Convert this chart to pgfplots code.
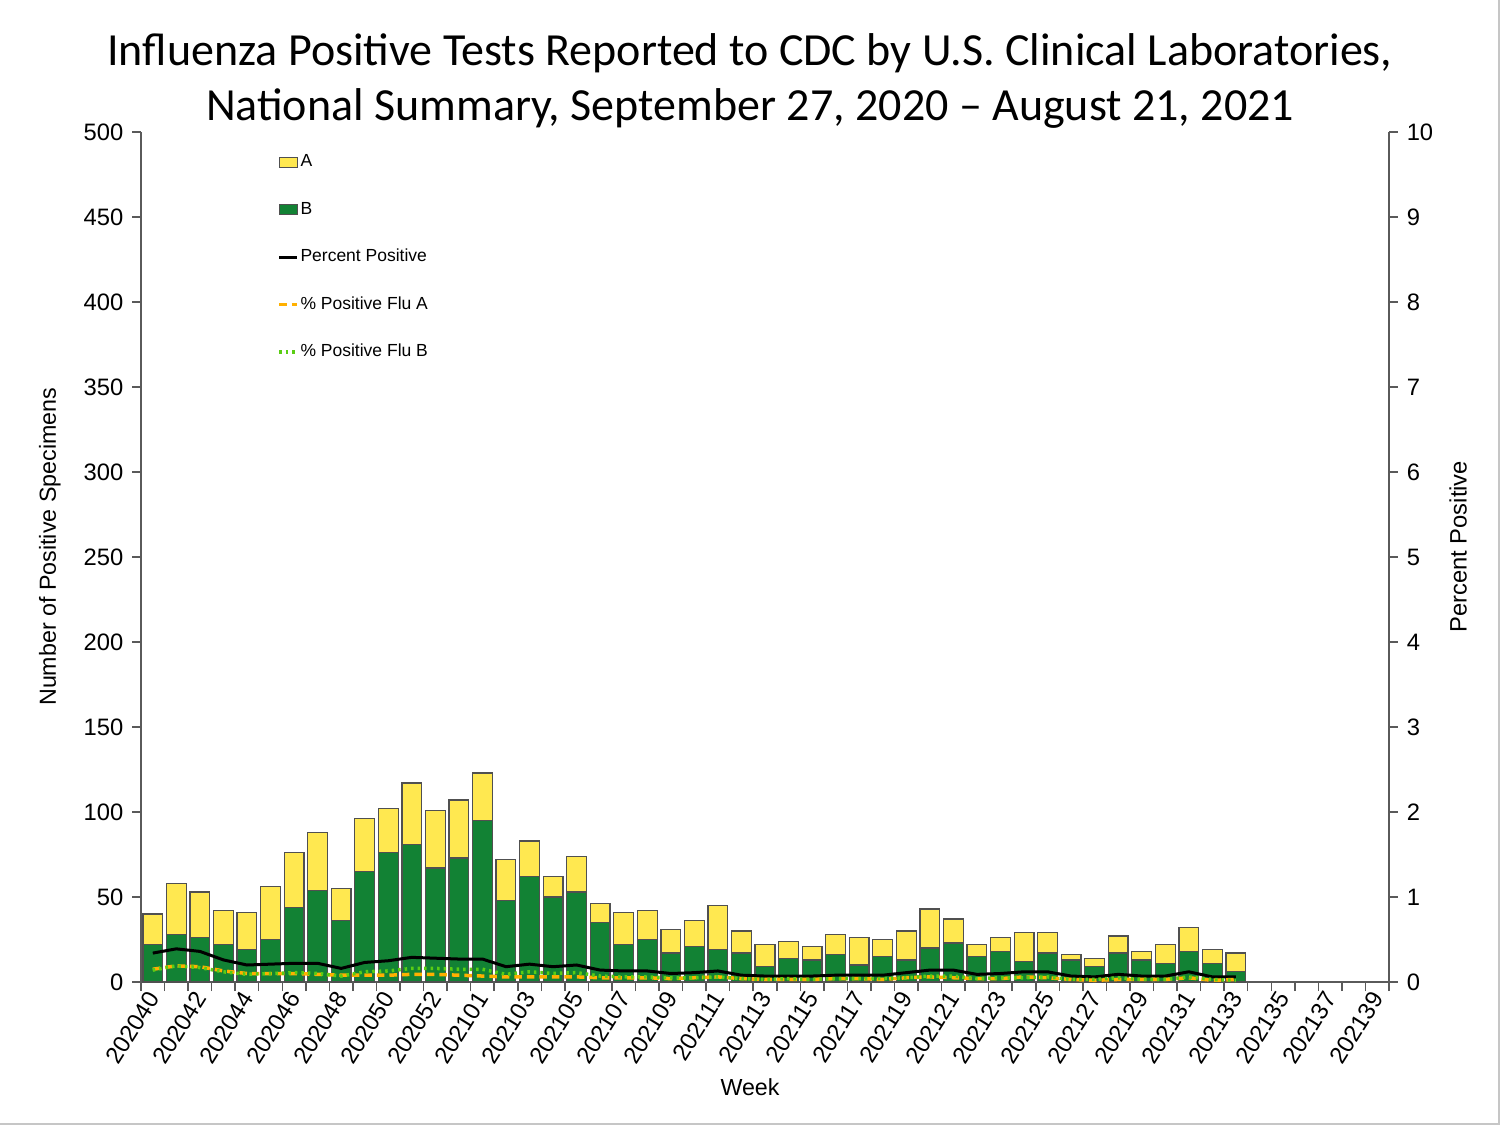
\documentclass[border=0pt]{standalone}
\usepackage{pgfplots}
\pgfplotsset{compat=1.18}
\usepackage{pgfplotstable}
\usepackage{fontspec}
\setmainfont{Liberation Sans}
\newfontfamily\titlefont{Carlito}

\definecolor{fluA}{RGB}{255,232,80}
\definecolor{fluB}{RGB}{18,130,52}
\definecolor{barline}{RGB}{80,80,80}
\definecolor{lineA}{RGB}{255,176,0}
\definecolor{lineB}{RGB}{90,205,20}
\definecolor{axisgray}{RGB}{90,90,90}

\pgfplotsset{
  legbar/.style={legend image code/.code={\draw[##1] (0pt,-2pt) rectangle (7.2pt,2pt);}},
  legline/.style={legend image code/.code={\draw[##1] (0pt,0pt) -- (7.2pt,0pt);}},
}

% x = week slot (0 = 202040), B and A = positive specimens, P/PA/PB = percent positive
\pgfplotstableread{
x  B  A  P    PA   PB
0  22 18 0.34 0.15 0.14
1  28 30 0.39 0.19 0.19
2  26 27 0.36 0.18 0.17
3  22 20 0.26 0.13 0.12
4  19 22 0.20 0.10 0.09
5  25 31 0.21 0.10 0.10
6  44 32 0.22 0.10 0.11
7  54 34 0.22 0.09 0.10
8  36 19 0.16 0.08 0.07
9  65 31 0.23 0.08 0.12
10 76 26 0.25 0.08 0.13
11 81 36 0.29 0.09 0.16
12 67 34 0.28 0.09 0.16
13 73 34 0.27 0.08 0.15
14 95 28 0.27 0.07 0.15
15 48 24 0.18 0.06 0.09
16 62 21 0.21 0.06 0.12
17 50 12 0.18 0.06 0.10
18 53 21 0.20 0.06 0.11
19 35 11 0.14 0.05 0.07
20 22 19 0.13 0.05 0.06
21 25 17 0.13 0.05 0.06
22 17 14 0.10 0.04 0.05
23 21 15 0.11 0.05 0.05
24 19 26 0.13 0.06 0.06
25 17 13 0.08 0.04 0.04
26 9  13 0.07 0.03 0.03
27 14 10 0.07 0.03 0.04
28 13 8  0.07 0.03 0.03
29 16 12 0.08 0.04 0.04
30 10 16 0.08 0.04 0.04
31 15 10 0.08 0.03 0.04
32 13 17 0.11 0.05 0.05
33 20 23 0.14 0.06 0.07
34 23 14 0.14 0.05 0.07
35 15 7  0.09 0.04 0.04
36 18 8  0.10 0.04 0.05
37 12 17 0.12 0.06 0.05
38 17 12 0.12 0.05 0.06
39 13 3  0.07 0.03 0.03
40 9  5  0.06 0.02 0.03
41 17 10 0.09 0.03 0.05
42 13 5  0.07 0.03 0.03
43 11 11 0.07 0.03 0.03
44 18 14 0.12 0.05 0.06
45 11 8  0.06 0.02 0.03
46 6  11 0.06 0.03 0.02
}\fluTable

\begin{document}
\begin{tikzpicture}
\useasboundingbox (-56.4pt,-57.2pt) rectangle (543.6pt,392.8pt);
\draw[gray!45, line width=0.8pt] (543.2pt,392.8pt) -- (543.2pt,-56.8pt) -- (-56.4pt,-56.8pt);

\begin{axis}[
    scale only axis,
    width=499.2pt, height=340pt,
    xmin=-0.5, xmax=52.5,
    ymin=0, ymax=500,
    axis x line*=bottom,
    axis y line*=left,
    axis line style={axisgray, line width=0.6pt},
    ytick={0,50,...,500},
    xtick={0,2,...,52},
    xticklabels={202040,202042,202044,202046,202048,202050,202052,
      202101,202103,202105,202107,202109,202111,202113,202115,202117,
      202119,202121,202123,202125,202127,202129,202131,202133,202135,
      202137,202139},
    minor xtick={-0.5,0.5,...,52.5},
    tick align=outside,
    major tick length=3.4pt,
    minor tick length=3.6pt,
    x tick style={draw=none},
    minor x tick style={draw=axisgray, line width=0.6pt},
    y tick style={axisgray, line width=0.6pt},
    tick label style={font=\fontsize{9.5}{11}\selectfont},
    /pgf/number format/assume math mode=true,
    xticklabel style={rotate=58, anchor=east, inner sep=1pt, yshift=-1pt},
    yticklabel style={inner sep=2pt, xshift=-1.5pt},
    every axis y label/.style={at={(axis description cs:-0.073,0.512)}, rotate=90, anchor=center},
    ylabel={Number of Positive Specimens},
    every axis x label/.style={at={(axis description cs:0.488,-0.1235)}, anchor=center},
    xlabel={Week},
    label style={font=\fontsize{9.3}{11}\selectfont},
    title={Influenza Positive Tests Reported to CDC by U.S. Clinical Laboratories,\\National Summary, September 27, 2020 – August 21, 2021},
    title style={at={(axis description cs:0.488,1.042)}, anchor=center, align=center,
      font=\titlefont\fontsize{18.4}{22}\selectfont},
    ybar stacked,
    bar width=0.84,
]
\addplot[fill=fluB, draw=barline, line width=0.5pt] table[x=x, y=B] {\fluTable};
\addplot[fill=fluA, draw=barline, line width=0.5pt] table[x=x, y=A] {\fluTable};
\end{axis}

\begin{axis}[
    scale only axis,
    width=499.2pt, height=340pt,
    xmin=-0.5, xmax=52.5,
    ymin=0, ymax=10,
    axis y line*=right,
    hide x axis,
    axis line style={axisgray, line width=0.6pt},
    ytick={0,1,...,10},
    tick align=outside,
    major tick length=3.4pt,
    y tick style={axisgray, line width=0.6pt},
    tick label style={font=\fontsize{9.5}{11}\selectfont},
    /pgf/number format/assume math mode=true,
    yticklabel style={inner sep=2pt, xshift=1.5pt},
    every axis y label/.style={at={(axis description cs:1.0553,0.512)}, rotate=90, anchor=center},
    ylabel={Percent Positive},
    label style={font=\fontsize{9.5}{11}\selectfont},
    legend style={at={(axis description cs:0.109,0.9765)}, anchor=north west,
      draw=none, fill=none, inner sep=0pt, row sep=11.2pt,
      font=\fontsize{7}{8}\selectfont,
      nodes={inner sep=0.6pt, text height=5.2pt, text depth=1.4pt}},
    legend cell align=left,
]
\addlegendimage{legbar, fill=fluA, draw=barline, line width=0.4pt}
\addlegendentry{A}
\addlegendimage{legbar, fill=fluB, draw=barline, line width=0.4pt}
\addlegendentry{B}
\addplot[black, line width=1.2pt, legline] table[x=x, y=P] {\fluTable};
\addlegendentry{Percent Positive}
\addplot[lineA, line width=1.4pt, dash pattern=on 3pt off 2pt, legline] table[x=x, y=PA] {\fluTable};
\addlegendentry{\% Positive Flu A}
\addplot[lineB, line width=1.4pt, dash pattern=on 1pt off 1.6pt, legline] table[x=x, y=PB] {\fluTable};
\addlegendentry{\% Positive Flu B}
\end{axis}
\end{tikzpicture}
\end{document}
